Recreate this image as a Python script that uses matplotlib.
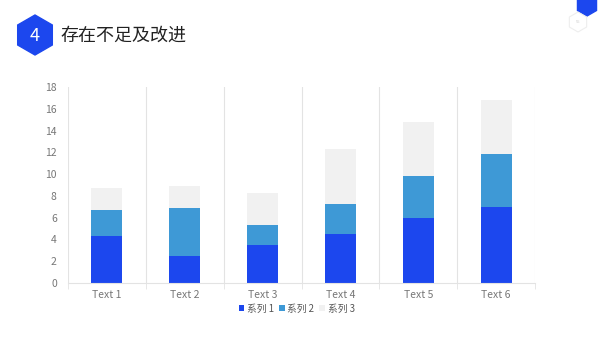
import matplotlib.pyplot as plt
from matplotlib.patches import RegularPolygon
import numpy as np

plt.rcParams['font.family'] = ['Noto Sans CJK SC', 'DejaVu Sans']

categories = ["Text 1", "Text 2", "Text 3", "Text 4", "Text 5", "Text 6"]
series_names = ["系列 1", "系列 2", "系列 3"]
s1 = [4.3, 2.5, 3.5, 4.5, 6.0, 7.0]
s2 = [2.4, 4.4, 1.8, 2.8, 3.8, 4.8]
s3 = [2.0, 2.0, 3.0, 5.0, 5.0, 5.0]
colors = ["#1c47ee", "#3e99d6", "#f1f1f1"]

fig = plt.figure(figsize=(6, 3.38), dpi=100)

# header decorations in pixel coords
deco = fig.add_axes([0, 0, 1, 1])
deco.set_xlim(0, 600)
deco.set_ylim(338, 0)
deco.axis("off")
deco.add_patch(RegularPolygon((35, 35), 6, radius=20, orientation=0, color="#1c47ee"))
deco.text(35, 36, "4", color="white", fontsize=13, ha="center", va="center")
deco.text(60, 36, "存在不足及改进", color="#222222", fontsize=13, ha="left", va="center")
deco.add_patch(RegularPolygon((587, 5), 6, radius=11, orientation=0, color="#1c47ee"))
deco.add_patch(RegularPolygon((578, 22), 6, radius=10, orientation=0,
                              facecolor="none", edgecolor="#eeeeee", lw=0.8))
deco.text(578, 22, "55", color="#cccccc", fontsize=3, ha="center", va="center")

ax = fig.add_axes([0.1133, 0.1627, 0.7784, 0.58])
x = np.arange(len(categories))
b1 = np.array(s1)
b2 = b1 + np.array(s2)
ax.bar(x, s1, width=0.4, color=colors[0], label=series_names[0])
ax.bar(x, s2, width=0.4, bottom=b1, color=colors[1], label=series_names[1])
ax.bar(x, s3, width=0.4, bottom=b2, color=colors[2], label=series_names[2])

ax.set_xlim(-0.5, len(categories) - 0.5)
ax.set_ylim(0, 18)
ax.set_yticks(range(0, 19, 2))
ax.set_xticks(x)
ax.set_xticklabels(categories)
ax.set_xticks(np.arange(-0.5, len(categories), 1), minor=True)
ax.grid(which="minor", axis="x", color="#e3e3e3", lw=0.8)
ax.tick_params(which="major", length=0, labelsize=7.5, labelcolor="#777777", pad=5)
ax.tick_params(which="minor", axis="x", length=4, color="#e3e3e3")
ax.tick_params(axis="y", length=0, pad=8)
for s in ["top", "right", "left"]:
    ax.spines[s].set_visible(False)
ax.spines["bottom"].set_color("#e3e3e3")

ax.legend(loc="center", bbox_to_anchor=(0.49, -0.13), ncol=3, frameon=False,
          fontsize=7, handlelength=0.55, handleheight=0.55, handletextpad=0.3,
          columnspacing=0.5, labelcolor="#555555")

fig.savefig("out.png", dpi=100)
